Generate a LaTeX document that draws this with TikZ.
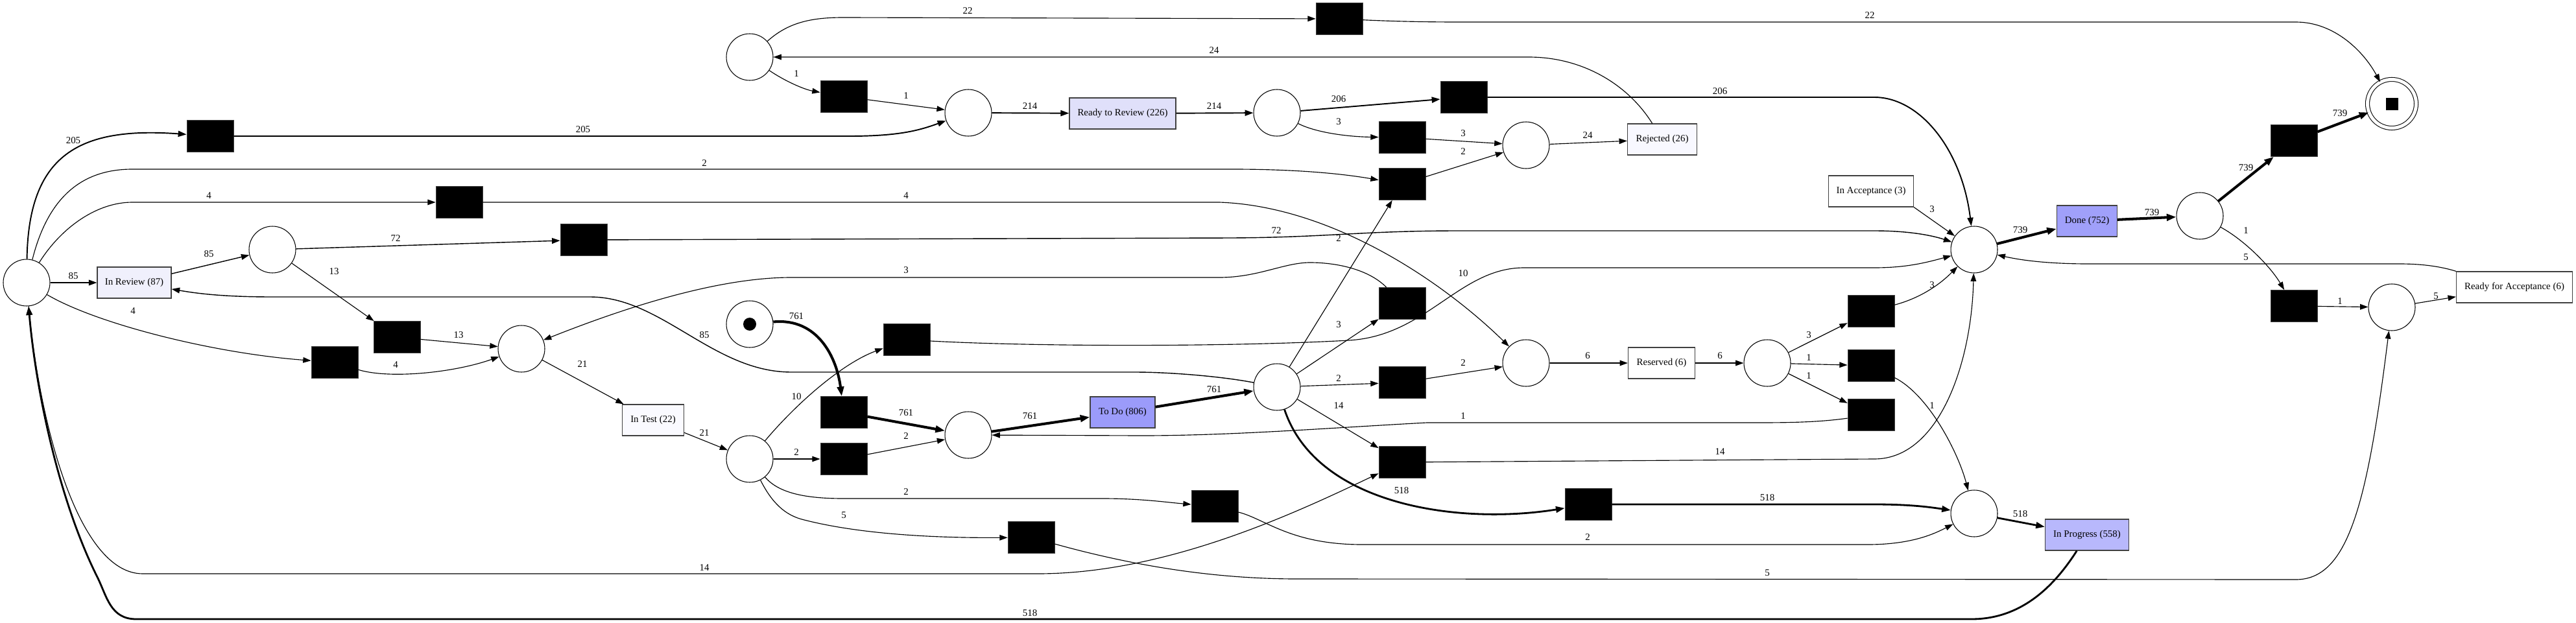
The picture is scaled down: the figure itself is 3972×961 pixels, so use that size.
\documentclass[tikz,border=0pt]{standalone}
\usepackage{fontspec}
\setmainfont{Liberation Serif}
\usetikzlibrary{arrows.meta}
\definecolor{cToDo}{HTML}{9B9BFA}
\definecolor{cDone}{HTML}{A0A0FA}
\definecolor{cProg}{HTML}{B8B8FC}
\definecolor{cRtR}{HTML}{E0E0FA}
\definecolor{cReview}{HTML}{F0F0FC}
\definecolor{cRej}{HTML}{F8F8FF}
\definecolor{cTest}{HTML}{FAFAFF}
\tikzset{
  pl/.style={circle,draw,line width=0.6pt,minimum size=14.4mm,inner sep=0pt},
  tr/.style={rectangle,fill=black,draw=black!75,minimum width=14.4mm,minimum height=9.8mm,inner sep=0pt},
  act/.style={rectangle,draw=black!75,line width=0.7pt,minimum height=9.6mm,inner sep=1pt},
  arc/.style={-{Triangle[length=6.5pt 0.8,width=4.5pt 0.6]},line width=0.65pt},
  f85/.style={line width=0.8pt},
  f200/.style={line width=1.1pt},
  f500/.style={line width=1.6pt},
  f700/.style={line width=2.3pt},
  lbl/.style={inner sep=0pt}
}
\begin{document}
\begin{tikzpicture}[x=0.2mm,y=-0.2mm,every node/.style={font=\fontsize{8.5}{10}\selectfont}]
\useasboundingbox (0,0) rectangle (3972,961);
% places
\node[pl] (P0) at (41,436) {};
\node[pl] (Pst) at (1156,500) {};
\node[pl,minimum size=15mm,double,double distance=1mm] (Pend) at (3688,160) {};
\node[pl] (P1) at (420,385) {};
\node[pl] (P2) at (1156,88) {};
\node[pl] (P3) at (1493,174) {};
\node[pl] (P4) at (1969,174) {};
\node[pl] (P5) at (2353,224) {};
\node[pl] (P6) at (804,538) {};
\node[pl] (P7) at (1156,708) {};
\node[pl] (P8) at (1493,671) {};
\node[pl] (P9) at (1969,597) {};
\node[pl] (P10) at (2353,560) {};
\node[pl] (P11) at (2725,560) {};
\node[pl] (P12) at (3044,385) {};
\node[pl] (P13) at (3392,333) {};
\node[pl] (P14) at (3688,474) {};
\node[pl] (P15) at (3044,792) {};
\fill (Pst.center) circle[radius=2mm];
\fill (Pend.center) +(-1.9mm,-1.9mm) rectangle +(1.9mm,1.9mm);
% silent transitions
\node[tr] (T1) at (324,210) {};
\node[tr] (T2) at (708,312) {};
\node[tr] (T3) at (900,370) {};
\node[tr] (T4) at (612,520) {};
\node[tr] (T5) at (516,559) {};
\node[tr] (T6) at (1301,149) {};
\node[tr] (T7) at (2065,29) {};
\node[tr] (T8) at (2257,150) {};
\node[tr] (T9) at (2162,212) {};
\node[tr] (T10) at (2162,284) {};
\node[tr] (T11) at (1398,524) {};
\node[tr] (T12) at (1301,636) {};
\node[tr] (T13) at (1301,708) {};
\node[tr] (T14) at (1873,781) {};
\node[tr] (T15) at (1590,829) {};
\node[tr] (T16) at (2162,468) {};
\node[tr] (T17) at (2162,590) {};
\node[tr] (T18) at (2162,713) {};
\node[tr] (T19) at (2449,778) {};
\node[tr] (T20) at (2885,480) {};
\node[tr] (T21) at (2885,564) {};
\node[tr] (T22) at (2885,640) {};
\node[tr] (T23) at (3537,217) {};
\node[tr] (T24) at (3537,472) {};
% activities
\node[act,fill=cReview,minimum width=22.8mm] (Review) at (207,436) {In Review (87)};
\node[act,fill=cRtR,minimum width=32.8mm] (RtR) at (1731,175) {Ready to Review (226)};
\node[act,fill=cRej,minimum width=21.4mm] (Rejected) at (2563,215) {Rejected (26)};
\node[act,fill=white,minimum width=26.2mm] (InAcc) at (2885,295) {In Acceptance (3)};
\node[act,fill=cTest,minimum width=19mm] (InTest) at (1007,648) {In Test (22)};
\node[act,fill=cToDo,minimum width=20mm] (ToDo) at (1731,636) {To Do (806)};
\node[act,fill=white,minimum width=20.6mm] (Reserved) at (2562,560) {Reserved (6)};
\node[act,fill=cDone,minimum width=18.6mm] (Done) at (3218,341) {Done (752)};
\node[act,fill=cProg,minimum width=25.8mm] (InProg) at (3218,825) {In Progress (558)};
\node[act,fill=white,minimum width=35.8mm] (RfA) at (3877,443) {Ready for Acceptance (6)};
% arcs
\draw[arc,f200] (P0) .. controls (44,240) and (120,195) .. (T1) node[lbl] at (113,217) {205};
\draw[arc,f200] (T1) -- (1310,210) .. controls (1390,210) and (1420,200) .. (P3) node[lbl] at (899,200) {205};
\draw[arc] (P0) .. controls (75,300) and (130,261) .. (204,261) -- (1900,261) .. controls (2000,261) and (2070,268) .. (T10) node[lbl] at (1086,252) {2};
\draw[arc] (P0) .. controls (95,350) and (150,312) .. (204,312) -- (T2) node[lbl] at (322,302) {4};
\draw[arc] (T2) -- (1880,312) .. controls (2050,318) and (2220,430) .. (P10) node[lbl] at (1397,302) {4};
\draw[arc,f85] (P0) -- (Review) node[lbl] at (113,426) {85};
\draw[arc,f85] (Review) -- (P1) node[lbl] at (322,392) {85};
\draw[arc,f85] (P1) -- (T3) node[lbl] at (610,368) {72};
\draw[arc,f85] (T3) -- (1900,367) .. controls (2050,366) and (2100,356) .. (2250,356) -- (2890,356) .. controls (2950,356) and (2985,365) .. (P12) node[lbl] at (1968,356) {72};
\draw[arc] (P1) -- (T4) node[lbl] at (515,419) {13};
\draw[arc] (T4) -- (P6) node[lbl] at (707,517) {13};
\draw[arc] (P0) .. controls (150,500) and (330,545) .. (T5) node[lbl] at (205,480) {4};
\draw[arc] (T5) .. controls (600,585) and (700,575) .. (P6) node[lbl] at (610,563) {4};
\draw[arc] (P6) -- (InTest) node[lbl] at (898,562) {21};
\draw[arc] (InTest) -- (P7) node[lbl] at (1086,668) {21};
\draw[arc] (P2) .. controls (1215,35) and (1250,27) .. (1300,27) -- (T7) node[lbl] at (1492,17) {22};
\draw[arc] (T7) .. controls (2150,33) and (2200,34) .. (2250,34) -- (3540,34) .. controls (3600,34) and (3645,80) .. (Pend) node[lbl] at (2883,24) {22};
\draw[arc] (Rejected) .. controls (2510,130) and (2440,88) .. (2357,88) -- (P2) node[lbl] at (1872,78) {24};
\draw[arc] (P2) .. controls (1210,125) and (1240,138) .. (T6) node[lbl] at (1228,114) {1};
\draw[arc] (T6) -- (P3) node[lbl] at (1397,148) {1};
\draw[arc,f200] (P3) -- (RtR) node[lbl] at (1588,164) {214};
\draw[arc,f200] (RtR) -- (P4) node[lbl] at (1872,164) {214};
\draw[arc,f200] (P4) -- (T8) node[lbl] at (2064,153) {206};
\draw[arc] (P4) .. controls (2030,205) and (2080,211) .. (T9) node[lbl] at (2064,188) {3};
\draw[arc,f200] (T8) -- (2890,150) .. controls (2960,150) and (3025,230) .. (P12) node[lbl] at (2652,141) {206};
\draw[arc] (T9) -- (P5) node[lbl] at (2256,206) {3};
\draw[arc] (T10) -- (P5) node[lbl] at (2256,234) {2};
\draw[arc] (P5) -- (Rejected) node[lbl] at (2448,209) {24};
\draw[arc] (InAcc.south east) .. controls (2980,340) .. (P12) node[lbl] at (2979,323) {3};
\draw[arc] (T11) .. controls (1600,535) and (1900,535) .. (2080,525) .. controls (2200,518) and (2250,413) .. (2350,413) -- (2890,413) .. controls (2940,413) and (2970,405) .. (P12) node[lbl] at (2256,422) {10};
\draw[arc] (P7) .. controls (1230,620) and (1300,560) .. (T11) node[lbl] at (1228,612) {10};
\draw[arc,f700] (Pst) .. controls (1260,490) and (1290,550) .. (T12) node[lbl] at (1228,488) {761};
\draw[arc,f700] (T12) -- (P8) node[lbl] at (1397,637) {761};
\draw[arc] (P7) -- (T13) node[lbl] at (1228,698) {2};
\draw[arc] (T13) -- (P8) node[lbl] at (1397,673) {2};
\draw[arc,f700] (P8) -- (ToDo) node[lbl] at (1588,642) {761};
\draw[arc,f700] (ToDo) -- (P9) node[lbl] at (1872,601) {761};
\draw[arc,f85] (P9) .. controls (1880,580) and (1800,574) .. (1750,574) -- (1220,574) .. controls (1100,574) and (1020,458) .. (910,458) -- (420,458) .. controls (340,458) and (300,452) .. (Review) node[lbl] at (1086,517) {85};
\draw[arc] (P9) -- (T10) node[lbl] at (2064,368) {2};
\draw[arc] (P9) -- (T16) node[lbl] at (2064,501) {3};
\draw[arc] (T16) .. controls (2110,415) and (2060,405) .. (2020,405) .. controls (1980,405) and (1940,428) .. (1880,428) -- (1220,428) .. controls (1100,428) and (950,480) .. (P6) node[lbl] at (1397,417) {3};
\draw[arc] (P9) -- (T17) node[lbl] at (2064,584) {2};
\draw[arc] (T17) -- (P10) node[lbl] at (2256,560) {2};
\draw[arc] (P9) -- (T18) node[lbl] at (2064,626) {14};
\draw[arc] (P0) .. controls (60,650) and (120,885) .. (220,885) -- (1600,885) .. controls (1800,885) and (2000,790) .. (T18) node[lbl] at (1086,876) {14};
\draw[arc] (T18) -- (2890,708) .. controls (2990,708) and (3040,560) .. (P12) node[lbl] at (2652,697) {14};
\draw[arc,f500] (P9) .. controls (2030,780) and (2250,810) .. (T19) node[lbl] at (2161,757) {518};
\draw[arc,f500] (T19) -- (2890,778) .. controls (2950,778) and (2980,783) .. (P15) node[lbl] at (2725,768) {518};
\draw[arc] (P10) -- (Reserved) node[lbl] at (2448,549) {6};
\draw[arc] (Reserved) -- (P11) node[lbl] at (2652,549) {6};
\draw[arc] (P11) -- (T20) node[lbl] at (2789,517) {3};
\draw[arc] (P11) -- (T21) node[lbl] at (2789,552) {1};
\draw[arc] (P11) -- (T22) node[lbl] at (2789,580) {1};
\draw[arc] (T20) .. controls (2960,460) and (2990,440) .. (P12) node[lbl] at (2979,440) {3};
\draw[arc] (T21) .. controls (2975,610) and (3020,700) .. (P15) node[lbl] at (2979,626) {1};
\draw[arc] (T22) .. controls (2800,652) and (2750,652) .. (2700,652) -- (2200,652) .. controls (2050,660) and (1900,672) .. (1760,672) -- (P8) node[lbl] at (2256,642) {1};
\draw[arc] (P7) .. controls (1200,760) and (1240,769) .. (1300,769) -- (1700,769) .. controls (1760,769) and (1800,775) .. (T14) node[lbl] at (1397,759) {2};
\draw[arc] (T14) .. controls (1950,800) and (1990,840) .. (2100,840) -- (2880,840) .. controls (2950,840) and (2985,822) .. (P15) node[lbl] at (2448,829) {2};
\draw[arc] (P7) .. controls (1190,775) and (1210,795) .. (1240,802) .. controls (1330,825) and (1450,830) .. (T15) node[lbl] at (1301,795) {5};
\draw[arc] (T15) .. controls (1720,865) and (1850,893) .. (2000,893) -- (3540,894) .. controls (3620,894) and (3650,780) .. (P14) node[lbl] at (2725,884) {5};
\draw[arc,f700] (P12) -- (Done) node[lbl] at (3115,355) {739};
\draw[arc,f700] (Done) -- (P13) node[lbl] at (3318,328) {739};
\draw[arc,f700] (P13) -- (T23) node[lbl] at (3463,259) {739};
\draw[arc,f700] (T23) -- (Pend) node[lbl] at (3608,175) {739};
\draw[arc] (P13) .. controls (3460,370) and (3500,410) .. (T24) node[lbl] at (3463,356) {1};
\draw[arc] (T24) -- (P14) node[lbl] at (3608,465) {1};
\draw[arc] (P14) -- (RfA) node[lbl] at (3756,457) {5};
\draw[arc] (RfA.north west) .. controls (3760,410) and (3730,407) .. (3700,407) -- (3220,407) .. controls (3150,407) and (3110,400) .. (P12) node[lbl] at (3463,397) {5};
\draw[arc,f500] (P15) -- (InProg) node[lbl] at (3115,793) {518};
\draw[arc,f500] (InProg) .. controls (3170,900) and (3120,955) .. (3040,955) -- (210,955) .. controls (170,955) and (165,920) .. (150,890) .. controls (90,770) and (55,600) .. (P0) node[lbl] at (1588,946) {518};
\end{tikzpicture}
\end{document}
